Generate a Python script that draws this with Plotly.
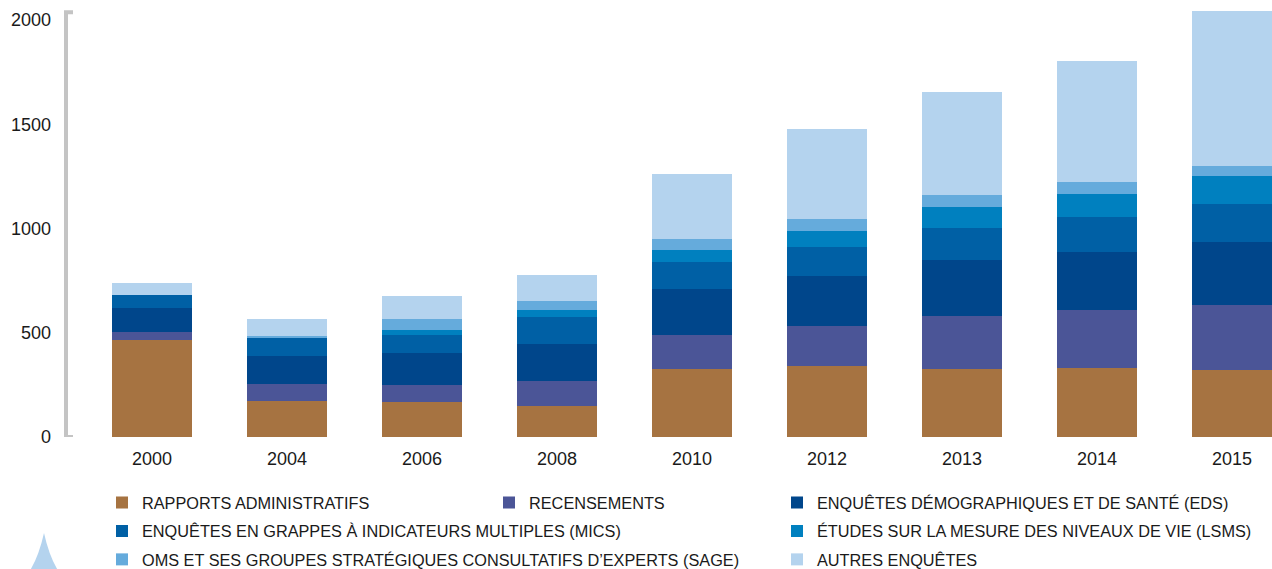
import plotly.graph_objects as go

# Survey counts by source and year
years = ["2000", "2004", "2006", "2008", "2010", "2012", "2013", "2014", "2015"]
rapports_admin = [464, 175, 166, 151, 324, 339, 324, 329, 320]
recensements = [38, 77, 82, 116, 164, 192, 255, 279, 312]
eds = [116, 135, 153, 178, 221, 241, 270, 279, 303]
mics = [62, 91, 87, 129, 130, 139, 153, 168, 183]
lsms = [0, 0, 24, 34, 58, 77, 101, 111, 134]
sage = [0, 6, 53, 43, 53, 58, 58, 58, 48]
autres = [58, 80, 110, 125, 312, 432, 495, 581, 746]

series = [
    ("RAPPORTS ADMINISTRATIFS", rapports_admin, "#a67341", "legend"),
    ("RECENSEMENTS", recensements, "#4b5597", "legend2"),
    ("ENQUÊTES DÉMOGRAPHIQUES ET DE SANTÉ (EDS)", eds, "#00468b", "legend3"),
    ("ENQUÊTES EN GRAPPES À INDICATEURS MULTIPLES (MICS)", mics, "#0060a5", "legend"),
    ("ÉTUDES SUR LA MESURE DES NIVEAUX DE VIE (LSMS)", lsms, "#0080bf", "legend3"),
    ("OMS ET SES GROUPES STRATÉGIQUES CONSULTATIFS D’EXPERTS (SAGE)", sage, "#65abdc", "legend"),
    ("AUTRES ENQUÊTES", autres, "#b4d3ee", "legend3"),
]

fig = go.Figure()
for i, (name, vals, color, leg) in enumerate(series):
    fig.add_trace(go.Bar(
        x=years, y=vals, name=name,
        marker=dict(color=color, line=dict(width=0)),
        legend=leg, legendgroup=f"g{i}",
    ))

W, H = 1272, 569
left, right, top, bottom = 66, 0, 8, 132
pw = W - left - right
ph = H - top - bottom

def px_x(p):
    return (p - left) / pw

def px_y(p):
    return (H - bottom - p) / ph

text_col = "#1a1a1a"
tick_font = dict(family="Liberation Sans, Arial, sans-serif", size=18, color=text_col)
leg_font = dict(family="Liberation Sans, Arial, sans-serif", size=16.3, color=text_col)

legend_common = dict(
    orientation="v", traceorder="grouped", font=leg_font,
    bgcolor="rgba(0,0,0,0)", borderwidth=0, tracegroupgap=4.2,
    xanchor="left", yanchor="top", itemclick=False, itemdoubleclick=False,
)

fig.update_layout(
    width=W, height=H,
    margin=dict(l=left, r=right, t=top, b=bottom, pad=0, autoexpand=False),
    paper_bgcolor="white", plot_bgcolor="white",
    barmode="stack", bargap=0.407,
    showlegend=True,
    legend=dict(x=px_x(102), y=px_y(485.5), **legend_common),
    legend2=dict(x=px_x(489), y=px_y(485.5), **legend_common),
    legend3=dict(x=px_x(777), y=px_y(485.5), **legend_common),
    xaxis=dict(
        type="category", range=[-0.637, 8.296],
        showgrid=False, zeroline=False, showline=False, ticks="",
        tickfont=tick_font, ticklabelstandoff=9,
    ),
    yaxis=dict(
        range=[0, 2058], tickvals=[0, 500, 1000, 1500, 2000],
        showgrid=False, zeroline=False, showline=False, ticks="",
        tickfont=tick_font, ticklabelstandoff=14,
    ),
)

# Grey bracket along the value axis
cap = 7 / pw
fig.add_shape(
    type="path", xref="paper", yref="y",
    path=f"M {cap},0 L 0,0 L 0,2038 L {cap},2038",
    line=dict(color="#c4c4c4", width=4), layer="above",
)

# Decorative light-blue peak in the lower-left corner
pts = dict(x0=px_x(27), xp=px_x(44), x1=px_x(61), yb=px_y(575), yp=px_y(533),
           cx0=px_x(38), cx1=px_x(50), cy=px_y(560))
fig.add_shape(
    type="path", xref="paper", yref="paper",
    path=(f"M {pts['x0']},{pts['yb']} Q {pts['cx0']},{pts['cy']} {pts['xp']},{pts['yp']} "
          f"Q {pts['cx1']},{pts['cy']} {pts['x1']},{pts['yb']} Z"),
    fillcolor="#b4d3ee", line=dict(width=0), layer="above",
)

fig.write_html("out.html")
